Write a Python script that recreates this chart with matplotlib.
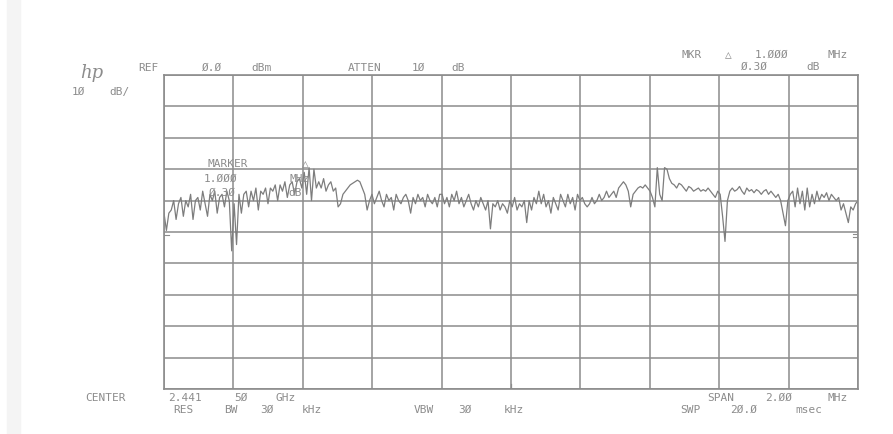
import numpy as np
import matplotlib.pyplot as plt

# HP spectrum analyzer plot, center 2.44150 GHz, span 2 MHz
span_mhz = 2.0
ref_dbm = 0.0
db_per_div = 10

# trace level in dBm left to right
trace = [
    -44, -49.5, -44,
    -43, -40, -46, -41, -39, -45, -40, -42, -38, -46, -40, -39, -43, -37, -41, -45, -38, -40,
    -37, -44, -39, -38, -42, -37, -40,
    -56, -41, -54,
    -38, -44, -38, -37, -42, -37, -40, -36, -43, -37, -38, -36, -41, -36, -37, -35, -40, -35,
    -37, -34, -39, -35, -34, -38, -34, -33, -36,
    -31, -38, -29.5, -40, -30, -36,
    -34, -36, -33, -37, -35, -34, -37, -36, -42, -41,
    -38, -37, -36, -35, -34.5, -34, -33.5, -34, -36, -38, -43, -40,
    -38, -41, -39, -37, -40, -42, -38, -40, -39, -43, -38, -40, -41, -39, -38, -40, -44, -39,
    -41, -38, -40, -39, -42, -38, -40, -41, -39, -42, -38,
    -38, -41, -39, -42, -38, -40, -37, -41, -39, -42,
    -40, -38, -41, -43, -40, -42, -39, -41, -43, -40,
    -49, -41, -42, -40, -43, -41, -42, -44, -40, -42,
    -39, -43, -41, -42, -40, -47, -40, -43, -39, -41,
    -37, -41, -38, -42, -40, -44, -39, -41, -43, -38,
    -40, -42, -38, -41, -39, -43, -38, -40, -39, -41,
    -42, -41, -39, -41, -40, -38, -40, -39, -37, -39, -38, -37, -39, -36, -35, -34, -35, -37,
    -42, -38, -37, -36, -35.5, -36, -35, -36, -37, -39, -42,
    -29.5, -38, -40, -29.5, -30, -33,
    -34.5, -35, -36, -34.5, -35, -36, -37, -35.5, -36, -37, -36.5, -36, -37, -36.5, -37, -36,
    -37, -38, -39, -37, -38,
    -45, -53, -40,
    -37, -36, -37, -36.5, -35.5, -37, -38, -36, -37, -36.5, -37.5, -36.5, -37, -38, -37, -36.5,
    -38, -37, -38, -39, -38, -40,
    -44, -48, -40, -38,
    -37, -42, -36, -41, -37, -43, -36, -42, -38, -41, -37, -40,
    -38, -39, -37.5, -40, -38, -39, -40, -39,
    -43, -41, -44, -47, -42, -43, -41, -40,
]

freq = np.linspace(-span_mhz / 2, span_mhz / 2, len(trace))

ink = '#8c8c8c'
fig = plt.figure(figsize=(8.93, 4.35), dpi=100)
fig.patch.set_facecolor('white')

# scanner shadow at the left edge
fig.patches.append(plt.Rectangle((0.008, 0.0), 0.014, 1.0, transform=fig.transFigure,
                                 color='#f4f4f4', zorder=0))

ax = fig.add_axes([164 / 893, 1 - 390 / 435, 694 / 893, 314 / 435])
ax.set_xlim(-span_mhz / 2, span_mhz / 2)
ax.set_ylim(ref_dbm - 10 * db_per_div, ref_dbm)
ax.set_xticks(np.linspace(-span_mhz / 2, span_mhz / 2, 11))
ax.set_yticks(np.arange(ref_dbm - 10 * db_per_div, ref_dbm + 1, db_per_div))
ax.grid(True, color=ink, lw=1.1)
ax.tick_params(length=0, labelbottom=False, labelleft=False)
for s in ax.spines.values():
    s.set_color(ink)
    s.set_linewidth(1.2)

ax.plot(freq, trace, color='#7d7d7d', lw=0.9)

# little marks on the frame
ax.plot([0.0, 0.0], [-100, -98.5], color=ink, lw=0.9)
ax.plot([0.985, 1.0], [-50.5, -50.5], color=ink, lw=0.8)
ax.plot([0.985, 1.0], [-51.5, -51.5], color=ink, lw=0.8)
ax.plot([-1.0, -0.985], [-51, -51], color=ink, lw=0.8)

mono = dict(family='DejaVu Sans Mono', fontsize=8, color=ink, ha='center', va='center')


def words(items, y):
    for x, s in items:
        fig.text(x / 893, 1 - y / 435, s, **mono)


fig.text(92 / 893, 1 - 73 / 435, 'hp', family='DejaVu Serif', style='italic',
         fontsize=13, color=ink, ha='center', va='center')
words([(148, 'REF'), (212, 'Ø.Ø'), (262, 'dBm'), (365, 'ATTEN'), (418, '1Ø'), (458, 'dB')], 68)
words([(78, '1Ø'), (120, 'dB/')], 92)
words([(692, 'MKR'), (728, '△'), (772, '1.ØØØ'), (838, 'MHz')], 55)
words([(754, 'Ø.3Ø'), (813, 'dB')], 67)
words([(228, 'MARKER'), (305, '△')], 164)
words([(221, '1.ØØØ'), (300, 'MHz')], 179)
words([(222, 'Ø.3Ø'), (295, 'dB')], 193)
words([(106, 'CENTER'), (185, '2.441'), (241, '5Ø'), (286, 'GHz')], 398)
words([(721, 'SPAN'), (779, '2.ØØ'), (838, 'MHz')], 398)
words([(183, 'RES'), (231, 'BW'), (267, '3Ø'), (312, 'kHz')], 410)
words([(424, 'VBW'), (465, '3Ø'), (514, 'kHz')], 410)
words([(690, 'SWP'), (744, '2Ø.Ø'), (809, 'msec')], 410)

fig.savefig('out.png', dpi=100)
